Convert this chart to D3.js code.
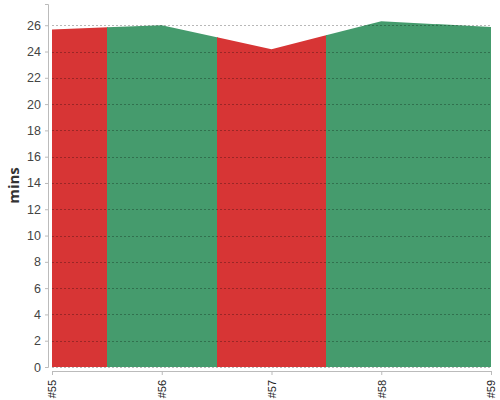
<!DOCTYPE html>
<html>
<head>
<meta charset="utf-8">
<script src="https://cdn.jsdelivr.net/npm/d3@7"></script>
<style>
    body { margin: 0; background: #fff; }
    svg { font-family: "Open Sans", sans-serif; }
    .axis path, .axis line { stroke: #bbb; }
    .axis text { fill: #444; }
</style>
</head>
<body>
<div id="chart"></div>
<script>
// build numbers, duration in minutes, and pass/fail status of each build
var builds = ['#55', '#56', '#57', '#58', '#59'];
var durations = [25.68, 26.0, 24.18, 26.3, 25.87];
var statuses = ['fail', 'pass', 'fail', 'pass', 'pass'];
var yTicks = [0, 2, 4, 6, 8, 10, 12, 14, 16, 18, 20, 22, 24, 26];

var colors = {
    pass: '#459b6d',
    fail: '#d73535'
};

var width = 500;
var height = 400;
var margin = { top: 4, right: 9, bottom: 33, left: 52 };

var svg = d3.select('#chart')
    .append('svg')
    .attr('width', width)
    .attr('height', height);

var x = d3.scalePoint()
    .domain(builds)
    .range([margin.left, width - margin.right]);

var y = d3.scaleLinear()
    .domain([0, d3.max(durations) * 1.05])
    .range([height - margin.bottom, margin.top]);

var points = builds.map(function(b, i) {
    return { build: b, value: durations[i], status: statuses[i] };
});

var area = d3.area()
    .x(function(d) { return x(d.build); })
    .y0(y(0))
    .y1(function(d) { return y(d.value); });

// each build owns the band halfway to its neighbours
// (bands overlap by a pixel so no seam shows between them)
var step = x.step();
var defs = svg.append('defs');
points.forEach(function(d, i) {
    var x0 = i === 0 ? x(d.build) : Math.round(x(d.build) - step / 2);
    var x1 = i === points.length - 1 ? x(d.build) : Math.round(x(d.build) + step / 2) + 1;
    defs.append('clipPath')
        .attr('id', 'band-' + i)
        .append('rect')
        .attr('x', x0)
        .attr('y', 0)
        .attr('width', x1 - x0)
        .attr('height', height);
});

svg.append('g')
    .attr('class', 'areas')
    .selectAll('path')
    .data(points)
    .enter()
    .append('path')
    .attr('d', area(points))
    .attr('clip-path', function(d, i) { return 'url(#band-' + i + ')'; })
    .attr('fill', function(d) { return colors[d.status]; });

// dashed grid on top of the areas
svg.append('g')
    .attr('class', 'grid')
    .selectAll('line')
    .data(yTicks)
    .enter()
    .append('line')
    .attr('x1', x.range()[0])
    .attr('x2', x.range()[1])
    .attr('y1', function(d) { return Math.round(y(d)) + 0.5; })
    .attr('y2', function(d) { return Math.round(y(d)) + 0.5; })
    .attr('stroke', '#000')
    .attr('stroke-opacity', 0.28)
    .attr('stroke-dasharray', '2,2');

var yAxis = svg.append('g')
    .attr('class', 'axis')
    .attr('transform', 'translate(' + (margin.left - 4) + ',0)')
    .call(d3.axisLeft(y).tickValues(yTicks).tickSize(3).tickPadding(4));
yAxis.selectAll('text').style('font-size', '12.5px');

var xAxis = svg.append('g')
    .attr('class', 'axis')
    .attr('transform', 'translate(0,' + (height - margin.bottom + 4) + ')')
    .call(d3.axisBottom(x).tickSize(4).tickSizeOuter(0));
xAxis.selectAll('text')
    .style('font-size', '11px')
    .style('fill', '#222')
    .attr('text-anchor', 'end')
    .attr('transform', 'rotate(-90)')
    .attr('x', -9)
    .attr('y', 0)
    .attr('dy', '0.35em');

svg.append('text')
    .attr('transform', 'translate(19,' + ((y.range()[0] + y.range()[1]) / 2) + ') rotate(-90)')
    .attr('text-anchor', 'middle')
    .style('font-size', '15px')
    .style('font-weight', 'bold')
    .style('fill', '#333')
    .text('mins');
</script>
</body>
</html>
